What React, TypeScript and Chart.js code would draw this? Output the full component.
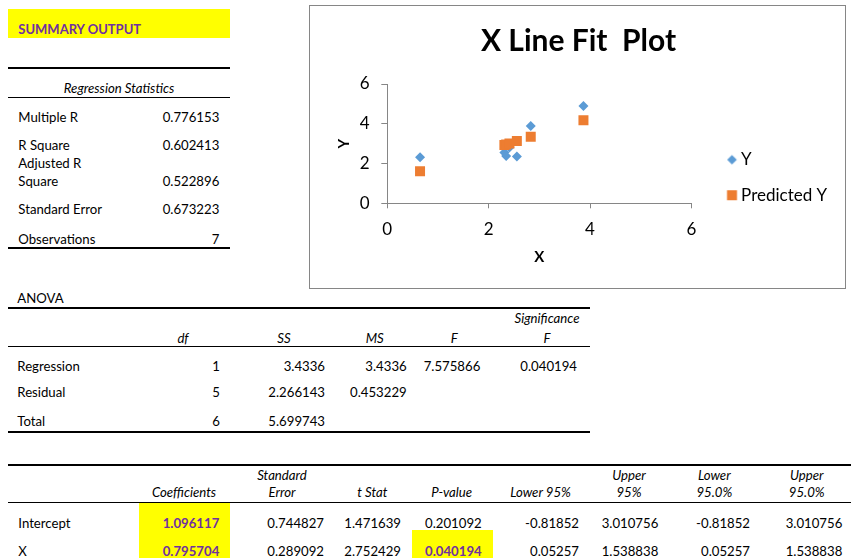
import React, { useEffect, useRef } from "react";
import { Chart, registerables } from "chart.js";

Chart.register(...registerables);

// ---------- chart data ----------
const xValues = [0.646, 2.31, 2.345, 2.41, 2.556, 2.83, 3.87];
const yValues = [2.31, 2.55, 2.38, 2.81, 2.35, 3.89, 4.89];
const predictedY = [1.61, 2.93, 2.96, 3.01, 3.13, 3.35, 4.18];
const seriesLabels = ["Y", "Predicted Y"];
const axisTicks = [0, 2, 4, 6];
const chartTitle = "X Line Fit  Plot";
const xAxisTitle = "X";
const yAxisTitle = "Y";

// ---------- table data ----------
const summaryTitle = "SUMMARY OUTPUT";
const regStatTitle = "Regression Statistics";
const regStatLabels = ["Multiple R", "R Square", "Adjusted R\nSquare", "Standard Error", "Observations"];
const regStatValues = ["0.776153", "0.602413", "0.522896", "0.673223", "7"];

const anovaTitle = "ANOVA";
const anovaHeaders = ["df", "SS", "MS", "F", "Significance\nF"];
const anovaRowLabels = ["Regression", "Residual", "Total"];
const anovaRows = [
  ["1", "3.4336", "3.4336", "7.575866", "0.040194"],
  ["5", "2.266143", "0.453229", "", ""],
  ["6", "5.699743", "", "", ""],
];

const coefHeaders = ["Coefficients", "Standard\nError", "t Stat", "P-value", "Lower 95%", "Upper\n95%", "Lower\n95.0%", "Upper\n95.0%"];
const coefRowLabels = ["Intercept", "X"];
const coefRows = [
  ["1.096117", "0.744827", "1.471639", "0.201092", "-0.81852", "3.010756", "-0.81852", "3.010756"],
  ["0.795704", "0.289092", "2.752429", "0.040194", "0.05257", "1.538838", "0.05257", "1.538838"],
];

// ---------- layout ----------
const FONT = "Lato, 'Open Sans', sans-serif";
const PURPLE = "#7030A0";
const YELLOW = "#FFFF00";
const BLUE = "#5B9BD5";
const ORANGE = "#ED7D31";
const AXIS_GRAY = "#868686";

const regRowY = [117.3, 145.7, 163.3, 209.3, 239.3];
const regValY = [117.3, 145.7, 181.7, 209.3, 239.3];
const anovaHeadX = [183, 284, 374.7, 454.3, 547];
const anovaValRight = [220, 325, 406.7, 480.3, 577];
const anovaRowY = [366, 392.3, 421.7];
const coefHeadX = [184, 282, 372.3, 451.7, 540.5, 629, 714.3, 806.7];
const coefValRight = [219.3, 324, 401, 481.7, 579, 658.3, 750, 842.3];
const coefRowY = [523.3, 551.7];

type TxtProps = { x: number; y: number; a?: "l" | "r" | "c"; s?: React.CSSProperties; children: React.ReactNode };
const Txt = ({ x, y, a = "l", s, children }: TxtProps) => {
  const h = 20;
  const st: React.CSSProperties = {
    position: "absolute",
    top: y - 10.4,
    height: h,
    lineHeight: h + "px",
    whiteSpace: "pre",
    fontSize: 13.2,
    color: "#000",
    ...s,
  };
  if (a === "l") st.left = x;
  else if (a === "r") {
    st.left = x - 300;
    st.width = 300;
    st.textAlign = "right";
  } else {
    st.left = x - 150;
    st.width = 300;
    st.textAlign = "center";
  }
  return <div style={st}>{children}</div>;
};

const Rule = ({ x1, x2, y, t }: { x1: number; x2: number; y: number; t: number }) => (
  <div style={{ position: "absolute", left: x1, top: y, width: x2 - x1, height: t, background: "#000" }} />
);

const Box = ({ x1, x2, y1, y2, c }: { x1: number; x2: number; y1: number; y2: number; c: string }) => (
  <div style={{ position: "absolute", left: x1, top: y1, width: x2 - x1, height: y2 - y1, background: c }} />
);

function makeLegendPoint(kind: "diamond" | "square", color: string) {
  const W = 34;
  const H = 14;
  const c = document.createElement("canvas");
  c.width = W;
  c.height = H;
  const g = c.getContext("2d")!;
  g.fillStyle = color;
  const cx = 27.7;
  const cy = H / 2;
  if (kind === "diamond") {
    const r = 4.8;
    g.beginPath();
    g.moveTo(cx, cy - r);
    g.lineTo(cx + r, cy);
    g.lineTo(cx, cy + r);
    g.lineTo(cx - r, cy);
    g.closePath();
    g.fill();
  } else {
    g.fillRect(cx - 5, cy - 5, 10, 10);
  }
  return c;
}

const LEFT_PAD = 9.8;
const RIGHT_PAD = 7.8;

function LineFitChart() {
  const ref = useRef<HTMLCanvasElement>(null);
  useEffect(() => {
    if (!ref.current) return;
    const legendPts = [makeLegendPoint("diamond", BLUE), makeLegendPoint("square", ORANGE)];
    const tickFont = { family: FONT, size: 17 };
    const titleFont = { family: FONT, size: 15, weight: "bold" as const };
    const chart = new Chart(ref.current, {
      type: "scatter",
      data: {
        datasets: [
          {
            label: seriesLabels[0],
            data: xValues.map((x, i) => ({ x, y: yValues[i] })),
            pointStyle: "rectRot",
            pointRadius: 5,
            pointHoverRadius: 5,
            backgroundColor: BLUE,
            borderColor: BLUE,
            pointBorderWidth: 0,
            order: 1,
          },
          {
            label: seriesLabels[1],
            data: xValues.map((x, i) => ({ x, y: predictedY[i] })),
            pointStyle: "rect",
            pointRadius: 7.07,
            pointHoverRadius: 7.07,
            backgroundColor: ORANGE,
            borderColor: ORANGE,
            pointBorderWidth: 0,
            order: 0,
          },
        ],
      },
      options: {
        responsive: false,
        animation: false,
        events: [],
        layout: { padding: { left: LEFT_PAD, top: 0, bottom: 0, right: RIGHT_PAD } },
        plugins: {
          title: {
            display: true,
            text: chartTitle,
            color: "#000",
            font: { family: FONT, size: 30, weight: "bold" },
            padding: { top: 17.2, bottom: 24.8 },
          },
          legend: {
            position: "right",
            align: "center",
            maxWidth: 300,
            title: { display: true, text: "", font: { size: 10 }, padding: { top: 49, bottom: 0 } },
            labels: {
              usePointStyle: true,
              pointStyleWidth: 22.7,
              padding: 18.5,
              color: "#000",
              font: { family: FONT, size: 17 },
              generateLabels: (ch: any) =>
                ch.data.datasets.map((ds: any, i: number) => ({
                  text: ds.label,
                  fillStyle: ds.backgroundColor,
                  strokeStyle: ds.backgroundColor,
                  lineWidth: 0,
                  pointStyle: legendPts[i],
                  hidden: false,
                  datasetIndex: i,
                  fontColor: "#000",
                })),
            },
          },
          tooltip: { enabled: false },
        },
        scales: {
          x: {
            type: "linear",
            min: axisTicks[0],
            max: axisTicks[axisTicks.length - 1],
            afterBuildTicks: (s: any) => {
              s.ticks = axisTicks.map((v) => ({ value: v }));
            },
            ticks: { padding: 11.5, color: "#000", font: tickFont },
            grid: { drawOnChartArea: false, drawTicks: true, tickLength: 5, color: AXIS_GRAY },
            border: { color: AXIS_GRAY },
            title: { display: true, text: xAxisTitle, color: "#000", font: titleFont, padding: { top: 0, bottom: 21.7 } },
            afterFit: (s: any) => {
              s.height = 84.7;
            },
          },
          y: {
            type: "linear",
            min: axisTicks[0],
            max: axisTicks[axisTicks.length - 1],
            afterBuildTicks: (s: any) => {
              s.ticks = axisTicks.map((v) => ({ value: v }));
            },
            ticks: { padding: 11.8, color: "#000", font: tickFont },
            grid: { drawOnChartArea: false, drawTicks: true, tickLength: 6, color: AXIS_GRAY },
            border: { color: AXIS_GRAY },
            title: { display: true, text: yAxisTitle, color: "#000", font: titleFont, padding: { top: 25.2 - LEFT_PAD, bottom: 0 } },
            afterFit: (s: any) => {
              s.width = 77.3 - LEFT_PAD;
            },
          },
        },
      } as any,
    });
    return () => chart.destroy();
  }, []);
  return (
    <div
      style={{
        position: "absolute",
        left: 309,
        top: 5,
        width: 537,
        height: 284,
        boxSizing: "border-box",
        border: "1px solid " + AXIS_GRAY,
        background: "#fff",
      }}
    >
      <canvas ref={ref} width={535} height={282} style={{ display: "block", width: 535, height: 282 }} />
    </div>
  );
}

export default function App() {
  const it: React.CSSProperties = { fontStyle: "italic" };
  const pb: React.CSSProperties = { fontWeight: "bold", color: PURPLE };
  return (
    <div
      style={{
        position: "absolute",
        left: 0,
        top: 0,
        width: 851,
        height: 558,
        overflow: "hidden",
        background: "#fff",
        fontFamily: FONT,
      }}
    >
      {/* Summary output */}
      <Box x1={8} x2={230} y1={9} y2={38} c={YELLOW} />
      <Txt x={18.3} y={29.2} s={{ ...pb, fontSize: 13 }}>{summaryTitle}</Txt>

      {/* Regression statistics */}
      <Rule x1={8} x2={230} y={67.2} t={2} />
      <Txt x={119} y={88.3} a="c" s={it}>{regStatTitle}</Txt>
      <Rule x1={8} x2={230} y={97.2} t={1} />
      {regStatLabels.map((lab, i) => {
        const parts = lab.split("\n");
        if (parts.length === 1)
          return <Txt key={"rl" + i} x={18.3} y={regRowY[i]}>{lab}</Txt>;
        return (
          <React.Fragment key={"rl" + i}>
            <Txt x={18.3} y={regRowY[i]}>{parts[0]}</Txt>
            <Txt x={18.3} y={regValY[i]}>{parts[1]}</Txt>
          </React.Fragment>
        );
      })}
      {regStatValues.map((v, i) => (
        <Txt key={"rv" + i} x={219.3} y={regValY[i]} a="r">{v}</Txt>
      ))}
      <Rule x1={8} x2={230} y={247.3} t={2} />

      {/* ANOVA */}
      <Txt x={17.3} y={298.3}>{anovaTitle}</Txt>
      <Rule x1={8} x2={590} y={306.8} t={2} />
      {anovaHeaders.map((h, i) => {
        const parts = h.split("\n");
        if (parts.length === 1)
          return <Txt key={"ah" + i} x={anovaHeadX[i]} y={338.3} a="c" s={it}>{h}</Txt>;
        return (
          <React.Fragment key={"ah" + i}>
            <Txt x={anovaHeadX[i]} y={318.3} a="c" s={it}>{parts[0]}</Txt>
            <Txt x={anovaHeadX[i]} y={338.3} a="c" s={it}>{parts[1]}</Txt>
          </React.Fragment>
        );
      })}
      <Rule x1={8} x2={590} y={345.8} t={1} />
      {anovaRowLabels.map((lab, r) => (
        <React.Fragment key={"ar" + r}>
          <Txt x={17.3} y={anovaRowY[r]}>{lab}</Txt>
          {anovaRows[r].map((v, c) =>
            v ? <Txt key={"av" + c} x={anovaValRight[c]} y={anovaRowY[r]} a="r">{v}</Txt> : null
          )}
        </React.Fragment>
      ))}
      <Rule x1={8} x2={590} y={430.8} t={2} />

      {/* Coefficients */}
      <Box x1={139.3} x2={230} y1={503} y2={558} c={YELLOW} />
      <Box x1={412.3} x2={493.3} y1={530} y2={558} c={YELLOW} />
      <Rule x1={8} x2={851} y={463.5} t={2} />
      {coefHeaders.map((h, i) => {
        const parts = h.split("\n");
        if (parts.length === 1)
          return <Txt key={"ch" + i} x={coefHeadX[i]} y={492.7} a="c" s={it}>{h}</Txt>;
        return (
          <React.Fragment key={"ch" + i}>
            <Txt x={coefHeadX[i]} y={475} a="c" s={it}>{parts[0]}</Txt>
            <Txt x={coefHeadX[i]} y={492.7} a="c" s={it}>{parts[1]}</Txt>
          </React.Fragment>
        );
      })}
      <Rule x1={8} x2={851} y={502.2} t={1} />
      {coefRowLabels.map((lab, r) => (
        <React.Fragment key={"cr" + r}>
          <Txt x={18.3} y={coefRowY[r]}>{lab}</Txt>
          {coefRows[r].map((v, c) => {
            const hl = c === 0 || (c === 3 && r === 1);
            return (
              <Txt key={"cv" + c} x={coefValRight[c]} y={coefRowY[r]} a="r" s={hl ? pb : undefined}>
                {v}
              </Txt>
            );
          })}
        </React.Fragment>
      ))}

      <LineFitChart />
    </div>
  );
}
